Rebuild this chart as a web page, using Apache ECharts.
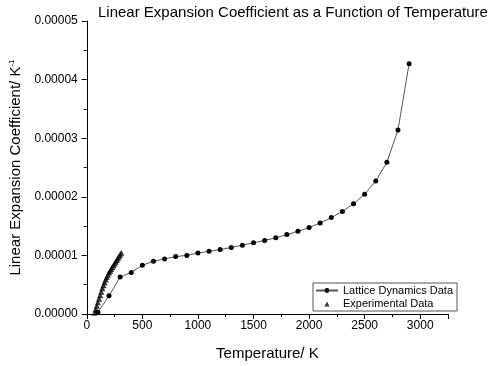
<!DOCTYPE html>
<html>
<head>
<meta charset="utf-8">
<script src="https://cdn.jsdelivr.net/npm/echarts@6/dist/echarts.min.js"></script>
<style>html,body{margin:0;padding:0;background:#fff;}#c{width:500px;height:366px;}</style>
</head>
<body>
<div id="c"></div>
<script>
// Lattice dynamics data: temperature (K) and coefficient (1e-6 /K)
var latticeT = [100,200,300,400,500,600,700,800,900,1000,1100,1200,1300,1400,1500,1600,1700,1800,1900,2000,2100,2200,2300,2400,2500,2600,2700,2800,2900];
var latticeA = [0.3,3.1,6.3,7.1,8.3,9.0,9.4,9.8,10.0,10.4,10.7,11.0,11.35,11.75,12.15,12.55,13.0,13.55,14.1,14.75,15.55,16.45,17.5,18.8,20.45,22.7,25.9,31.4,42.7];
// Experimental data
var expT = [70,80,90,100,110,120,130,140,150,160,170,180,190,200,210,220,230,240,250,260,270,280,290,300,310];
var expA = [0.2,0.8,1.4,2.0,2.6,3.2,3.8,4.4,4.9,5.4,5.9,6.3,6.7,7.1,7.4,7.7,8.0,8.3,8.6,8.9,9.2,9.5,9.8,10.1,10.45];
var xTicks = [0,500,1000,1500,2000,2500,3000];
var yTicks = [0,0.00001,0.00002,0.00003,0.00004,0.00005];

function pairs(t, a){ return t.map(function(v,i){ return [v, a[i]*1e-6]; }); }

var FONT = 'Liberation Sans, Arial, sans-serif';
var chart = echarts.init(document.getElementById('c'));
chart.setOption({
  animation: false,
  backgroundColor: '#fff',
  textStyle: {fontFamily: FONT},
  title: {
    text: 'Linear Expansion Coefficient as a Function of Temperature',
    left: 93, top: 0,
    textStyle: {fontFamily: FONT, fontSize: 15, fontWeight: 'normal', color: '#000'}
  },
  grid: {left: 83, right: 52, top: 21, bottom: 50, containLabel: false},
  legend: {
    orient: 'vertical', left: 313, top: 283,
    borderColor: '#555', borderWidth: 1, padding: [2, 4, 2, 2],
    itemGap: 2, itemWidth: 22, itemHeight: 6,
    textStyle: {fontFamily: FONT, fontSize: 11, color: '#000'},
    data: [
      {name: 'Lattice Dynamics Data'},
      {name: 'Experimental Data', icon: 'path://M0,0 M22,6 M8.5,6 L11,1 L13.5,6 Z'}
    ]
  },
  xAxis: {
    type: 'value', min: 0, max: 3250, interval: 500,
    name: 'Temperature/ K', nameLocation: 'middle', nameGap: 32,
    nameTextStyle: {fontFamily: FONT, fontSize: 15, color: '#000'},
    axisLine: {show: true, onZero: false, lineStyle: {color: '#000', width: 1}},
    axisTick: {show: true, inside: false, length: 5, lineStyle: {color: '#000'}},
    minorTick: {show: true, splitNumber: 2, length: 3, lineStyle: {color: '#000'}},
    axisLabel: {fontFamily: FONT, fontSize: 12, color: '#000', margin: 6, showMaxLabel: false,
      formatter: function(v){ return xTicks.indexOf(v) >= 0 ? String(v) : ''; }},
    splitLine: {show: false}
  },
  yAxis: {
    type: 'value', min: 0, max: 0.00005, interval: 0.00001,
    name: 'Linear Expansion Coefficient/ K{sup|-1}', nameLocation: 'middle', nameRotate: 90, nameGap: 57,
    nameTextStyle: {fontFamily: FONT, fontSize: 15, color: '#000',
      rich: {sup: {fontFamily: FONT, fontSize: 8, color: '#000', verticalAlign: 'top', padding: [0,0,8,0]}}},
    axisLine: {show: true, onZero: false, lineStyle: {color: '#000', width: 1}},
    axisTick: {show: true, inside: false, length: 5, lineStyle: {color: '#000'}},
    minorTick: {show: true, splitNumber: 2, length: 3, lineStyle: {color: '#000'}},
    axisLabel: {fontFamily: FONT, fontSize: 12, color: '#000', margin: 9,
      formatter: function(v){
        for (var i = 0; i < yTicks.length; i++) if (Math.abs(v - yTicks[i]) < 1e-9) return yTicks[i].toFixed(5);
        return '';
      }},
    splitLine: {show: false}
  },
  series: [
    {
      name: 'Lattice Dynamics Data', type: 'line',
      data: pairs(latticeT, latticeA),
      symbol: 'circle', symbolSize: 5, showSymbol: true,
      lineStyle: {color: '#555', width: 1},
      itemStyle: {color: '#000'}
    },
    {
      name: 'Experimental Data', type: 'scatter',
      data: pairs(expT, expA),
      symbol: 'triangle', symbolSize: 6, symbolKeepAspect: true,
      itemStyle: {color: '#000'}
    }
  ]
});
</script>
</body>
</html>
